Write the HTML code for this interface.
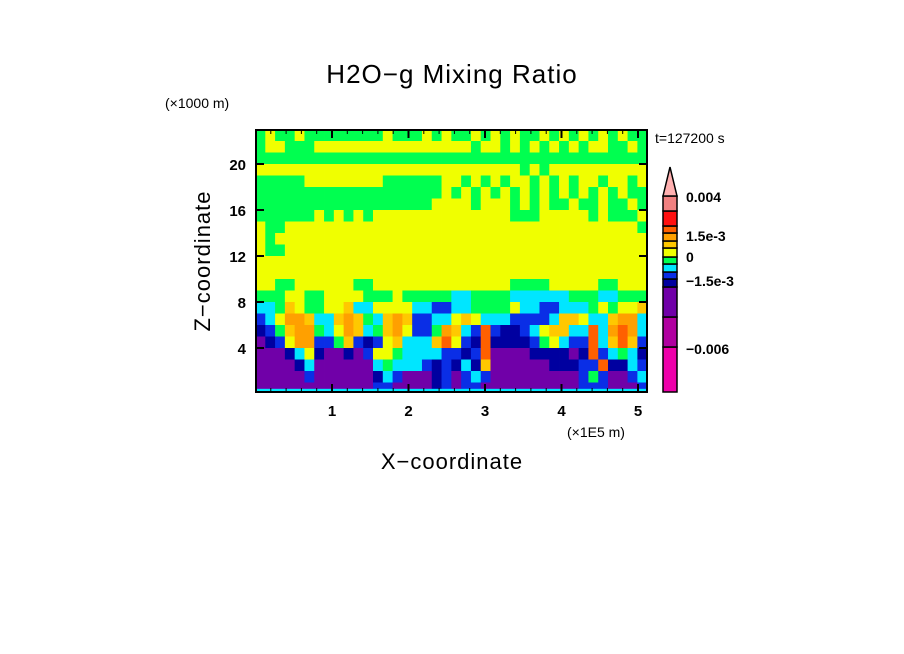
<!DOCTYPE html>
<html><head><meta charset="utf-8"><style>
html,body{margin:0;padding:0;background:#fff;}
svg{display:block;font-family:"Liberation Sans",sans-serif;}
</style></head><body>
<svg id="chart" width="904" height="654" viewBox="0 0 904 654">
<defs><clipPath id="plotclip"><rect x="256" y="130" width="391" height="262"/></clipPath></defs>
<text x="452" y="83" text-anchor="middle" font-size="26" letter-spacing="1" fill="#000">H2O−g Mixing Ratio</text>
<text x="165" y="108" font-size="14" fill="#000">(×1000 m)</text>
<text x="655" y="143" font-size="14" fill="#000">t=127200 s</text>
<text x="567" y="437" font-size="14" fill="#000">(×1E5 m)</text>
<text x="452" y="469" text-anchor="middle" font-size="22" letter-spacing="1" fill="#000">X−coordinate</text>
<text x="210" y="261" text-anchor="middle" font-size="22" letter-spacing="1" fill="#000" transform="rotate(-90 210 261)">Z−coordinate</text>
<g id="cells" clip-path="url(#plotclip)"></g>
<g id="axes"></g>
<g id="cbar"></g>
</svg>
<script>
// grid rows, top (z 22-23) to bottom (z 0-1); each char = contour class index (hex)
const gridRows = [
"6766766666666766676766767676676767676766",
"6776667777777777777777677676767676776676",
"6666666666666666666666666666666666666666",
"7777777777777777777777777776767777777777",
"6666677777777666666776767677676767767767",
"6666666666666666666767676767676767676766",
"6666666666666666667777677767676676676676",
"6666667676767777777777777766677777676667",
"7667777777777777777777777777777777777776",
"7677777777777777777777777777777777777777",
"7667777777777777777777777777777777777777",
"7777777777777777777777777777777777777777",
"7777777777777777777777777777777777777777",
"7766777777667777777777777766667777766777",
"6667766777766676666655666655555566655666",
"5568766778557777554455666675544555676778",
"4579985589865898445578755544445887558995",
"34689965798568974469854A4334578855A59A95",
"2347994468434785558A743A3333467544A58A84",
"22235732232477655554434A2222333323A45653",
"22223522222256555434353822222233344A33544",
"2222242222223542223424542222222224642245",
"2222222222224422223424422222222224442224"
];
const zTop = 23, zStep = 1, xStep = 0.128, nCols = 40;
const classColors = ["#ee00aa","#b000a0","#7000a8","#0000a0","#0a2ee6","#00e6ff","#00ff50","#f0ff00","#ffc800","#ffa000","#ff6000","#ff1010","#f08080"];
const cbarLabels = ["0.004","1.5e-3","0","−1.5e-3","−0.006"];
const xTicks = [1,2,3,4,5];
const yTicks = [4,8,12,16,20];
const NS="http://www.w3.org/2000/svg";
const X = v => 255.5 + v*76.5;
const Y = z => 394 - z*11.5;
const cells = document.getElementById('cells');
gridRows.forEach((row, r) => {
  let s = row.slice(0, nCols);
  while (s.length < nCols) s += s[s.length-1];
  const z1 = zTop - r*zStep, z0 = z1 - zStep;
  for (let c = 0; c < nCols; c++) {
    const k = parseInt(s[c], 16);
    const rect = document.createElementNS(NS,'rect');
    
    
    rect.setAttribute('x', X(c*xStep)); rect.setAttribute('y', Y(z1));
    rect.setAttribute('width', X((c+1)*xStep)-X(c*xStep)+0.4);
    rect.setAttribute('height', Y(z0)-Y(z1)+0.4);
    rect.setAttribute('fill', classColors[k]);
    cells.appendChild(rect);
  }
});
// thin cyan strip along the ground
const strip=document.createElementNS(NS,'rect');


strip.setAttribute('x',256);strip.setAttribute('y',Y(0.45));strip.setAttribute('width',391);strip.setAttribute('height',Y(0)-Y(0.45));
strip.setAttribute('fill',classColors[5]);cells.appendChild(strip);
const axes = document.getElementById('axes');
function line(x1,y1,x2,y2,w,name){const l=document.createElementNS(NS,'line');
  
  
  l.setAttribute('x1',x1);l.setAttribute('y1',y1);l.setAttribute('x2',x2);l.setAttribute('y2',y2);
  l.setAttribute('stroke','#000');l.setAttribute('stroke-width',w);axes.appendChild(l);}
function text(x,y,s,anchor,size,name,parent){const t=document.createElementNS(NS,'text');
  
  
  t.setAttribute('x',x);t.setAttribute('y',y);t.setAttribute('text-anchor',anchor);
  t.setAttribute('font-size',size);t.setAttribute('font-weight','bold');t.textContent=s;(parent||axes).appendChild(t);}
const frame=document.createElementNS(NS,'rect');


frame.setAttribute('x',256);frame.setAttribute('y',130);frame.setAttribute('width',391);frame.setAttribute('height',262);
frame.setAttribute('fill','none');frame.setAttribute('stroke','#000');frame.setAttribute('stroke-width',2);axes.appendChild(frame);
xTicks.forEach(v=>{const x=X(v);line(x,392,x,384,2,'x-tick');line(x,130,x,138,2,'x-tick-top');
  text(x,416,String(v),'middle',15,'x-tick-label');});
for(let v=0.2; v<5.12; v+=0.2){const x=X(v);line(x,392,x,388,1,'x-minor-tick');line(x,130,x,134,1,'x-minor-tick-top');}
yTicks.forEach(v=>{const y=Y(v);line(256,y,264,y,2,'y-tick');line(647,y,639,y,2,'y-tick-right');
  text(246,y+6,String(v),'end',15,'y-tick-label');});
// colorbar
const cbar=document.getElementById('cbar');
const cbX=663, cbW=14;
const cbEdges=[392,347,317,287,279,272,264,257,248,241,233,226,211,196];
for(let k=0;k<13;k++){const r=document.createElementNS(NS,'rect');
  
  
  r.setAttribute('x',cbX);r.setAttribute('y',cbEdges[k+1]);r.setAttribute('width',cbW);r.setAttribute('height',cbEdges[k]-cbEdges[k+1]);
  r.setAttribute('fill',classColors[k]);r.setAttribute('stroke','#000');r.setAttribute('stroke-width',1.5);cbar.appendChild(r);}
const tri=document.createElementNS(NS,'polygon');


tri.setAttribute('points',`${cbX},196 ${cbX+cbW/2},167 ${cbX+cbW},196`);
tri.setAttribute('fill','#ffb0b0');tri.setAttribute('stroke','#000');tri.setAttribute('stroke-width',1.5);cbar.appendChild(tri);
const labelY=[202,241,262,286,354];
cbarLabels.forEach((s,i)=>text(686,labelY[i],s,'start',14,'colorbar-label',cbar));
</script>
</body></html>
